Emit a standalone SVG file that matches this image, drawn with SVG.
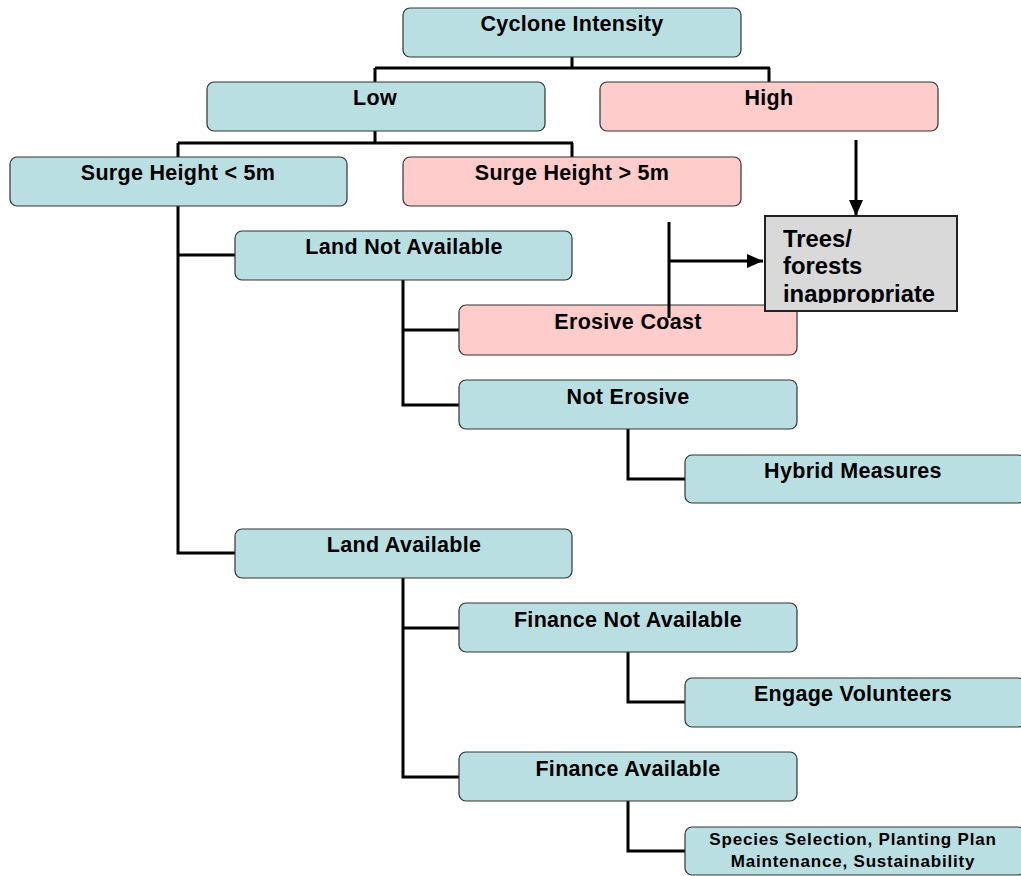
<svg xmlns="http://www.w3.org/2000/svg" width="1021" height="876" viewBox="0 0 1021 876">
<style>
.b rect{stroke:#333;stroke-width:1.2}
.t{fill:#b9dfe2}
.p{fill:#ffcccc}
text{font-family:"Liberation Sans",Arial,sans-serif;font-weight:bold;fill:#000}
.l{font-size:21.5px;text-anchor:middle;letter-spacing:0.3px}
.s{font-size:17px;text-anchor:middle;letter-spacing:0.8px}
.g{font-size:23.8px}
.c line,.c path{stroke:#000;stroke-width:3;fill:none}
</style>
<defs>
<marker id="ah2" markerWidth="16" markerHeight="14" refX="16" refY="7" orient="auto" markerUnits="userSpaceOnUse"><path d="M0,0 L16,7 L0,14 z" fill="#000"/></marker>
<clipPath id="tc"><rect x="765" y="216" width="192" height="87"/></clipPath>
</defs>
<g class="c" id="connectors">
<path d="M572,57 V68 M375,68 H770 M375,68 V82 M769,68 V82"/>
<path d="M375,131 V143 M178,143 H573 M178,143 V157 M572,143 V157"/>
<path d="M178,206 V553 H235 M178,255 H235"/>
<path d="M403,280 V405 H459 M403,330 H459"/>
<path d="M628,429 V479 H685"/>
<path d="M403,578 V777 H459 M403,628 H459"/>
<path d="M628,652 V702 H685"/>
<path d="M628,801 V851 H685"/>
</g>
<g class="b" id="n-cyclone"><rect class="t" x="403" y="8" width="338" height="49" rx="7"/><text class="l" x="572" y="31">Cyclone Intensity</text></g>
<g class="b" id="n-low"><rect class="t" x="207" y="82" width="338" height="49" rx="7"/><text class="l" x="375" y="105">Low</text></g>
<g class="b" id="n-high"><rect class="p" x="600" y="82" width="338" height="49" rx="7"/><text class="l" x="769" y="105">High</text></g>
<g class="b" id="n-surge-low"><rect class="t" x="10" y="157" width="337" height="49" rx="7"/><text class="l" x="178" y="180">Surge Height &lt; 5m</text></g>
<g class="b" id="n-surge-high"><rect class="p" x="403" y="157" width="338" height="49" rx="7"/><text class="l" x="572" y="180">Surge Height &gt; 5m</text></g>
<g class="b" id="n-land-not"><rect class="t" x="235" y="231" width="337" height="49" rx="7"/><text class="l" x="404" y="254">Land Not Available</text></g>
<g class="b" id="n-erosive"><rect class="p" x="459" y="305" width="338" height="50" rx="7"/><text class="l" x="628" y="329">Erosive Coast</text></g>
<g class="b" id="n-not-erosive"><rect class="t" x="459" y="380" width="338" height="49" rx="7"/><text class="l" x="628" y="404">Not Erosive</text></g>
<g class="b" id="n-hybrid"><rect class="t" x="685" y="455" width="340" height="48" rx="7"/><text class="l" x="853" y="478">Hybrid Measures</text></g>
<g class="b" id="n-land-avail"><rect class="t" x="235" y="529" width="337" height="49" rx="7"/><text class="l" x="404" y="552">Land Available</text></g>
<g class="b" id="n-fin-not"><rect class="t" x="459" y="603" width="338" height="49" rx="7"/><text class="l" x="628" y="627">Finance Not Available</text></g>
<g class="b" id="n-engage"><rect class="t" x="685" y="678" width="340" height="49" rx="7"/><text class="l" x="853" y="701">Engage Volunteers</text></g>
<g class="b" id="n-fin-avail"><rect class="t" x="459" y="752" width="338" height="49" rx="7"/><text class="l" x="628" y="776">Finance Available</text></g>
<g class="b" id="n-species"><rect class="t" x="685" y="827" width="340" height="48" rx="7"/><text class="s" x="853" y="845">Species Selection, Planting Plan</text><text class="s" x="853" y="867">Maintenance, Sustainability</text></g>
<g class="c" id="connectors-arrows">
<path d="M856,140 V216" marker-end="url(#ah2)"/>
<path d="M669,222 V318 M669,261 H763" marker-end="url(#ah2)"/>
</g>
<g id="n-trees"><rect x="765" y="216" width="192" height="95" fill="#d9d9d9" stroke="#222" stroke-width="2"/><g clip-path="url(#tc)"><text class="g" x="783" y="247">Trees/</text><text class="g" x="783" y="274">forests</text><text class="g" x="783" y="302">inappropriate</text></g></g>
</svg>
